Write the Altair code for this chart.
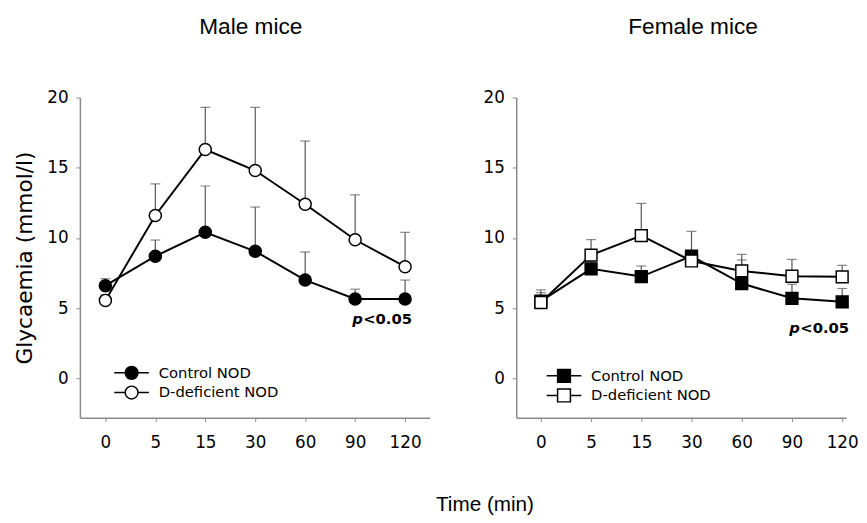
import altair as alt
import pandas as pd

# ---- data ----
times = ["0", "5", "15", "30", "60", "90", "120"]
groups = ["Control NOD", "D-deficient NOD"]

male_ctrl = [6.6, 8.7, 10.4, 9.05, 7.0, 5.65, 5.65]
male_ctrl_sem = [0.5, 1.15, 3.3, 3.15, 2.0, 0.7, 1.35]
male_def = [5.55, 11.6, 16.3, 14.8, 12.4, 9.87, 7.95]
male_def_sem = [0.4, 2.25, 3.0, 4.5, 4.5, 3.2, 2.45]

fem_ctrl = [5.5, 7.8, 7.25, 8.7, 6.75, 5.7, 5.45]
fem_ctrl_sem = [0.6, 0.5, 0.75, 1.77, 1.68, 1.0, 0.95]
fem_def = [5.4, 8.78, 10.16, 8.36, 7.65, 7.27, 7.23]
fem_def_sem = [0.9, 1.1, 2.3, 0.64, 1.18, 1.2, 0.82]

p_label = ["p", "<0.05"]
p_y = {"male": 4.2, "female": 3.6}

y_ticks = [0, 5, 10, 15, 20]

# ---- build tables ----
def table(ctrl, ctrl_sem, dfc, dfc_sem):
    rows = []
    for g, vals, sems in [(groups[0], ctrl, ctrl_sem), (groups[1], dfc, dfc_sem)]:
        for i, (t, v, s) in enumerate(zip(times, vals, sems)):
            rows.append({"idx": i, "time": t, "group": g, "mean": v, "upper": v + s})
    return pd.DataFrame(rows)

male_df = table(male_ctrl, male_ctrl_sem, male_def, male_def_sem)
fem_df = table(fem_ctrl, fem_ctrl_sem, fem_def, fem_def_sem)

label_expr = "[" + ",".join("'%s'" % t for t in times) + "][datum.value]"

AXIS_GRAY = "#8a8a8a"

CIRCLE_PATH = "M-2.7,0H-1M1,0H2.7M1,0A1,1,0,1,1,-1,0A1,1,0,1,1,1,0Z"
SQUARE_PATH = "M-2.7,0H-1M1,0H2.7M-1,-1H1V1H-1Z"


def panel(df, title, shape, legend_path, xdomain, width, ytitle, legend_xy, py, title_dx):
    x = alt.X(
        "idx:Q",
        scale=alt.Scale(domain=xdomain, nice=False, zero=False),
        axis=alt.Axis(
            values=list(range(len(times))),
            labelExpr=label_expr,
            title=None,
            grid=False,
            domainColor=AXIS_GRAY,
            domainWidth=1.5,
            tickColor=AXIS_GRAY,
            tickSize=4,
            tickWidth=1,
            labelFont="DejaVu Sans",
            labelFontSize=17,
            labelColor="black",
            labelPadding=13,
        ),
    )
    yaxis = alt.Axis(
        values=y_ticks,
        grid=False,
        domainColor=AXIS_GRAY,
        domainWidth=1.5,
        tickColor=AXIS_GRAY,
        tickSize=4,
        tickWidth=1,
        labelFont="DejaVu Sans",
        labelFontSize=17,
        labelColor="black",
        labelPadding=8,
        titleFont="DejaVu Sans",
        titleFontSize=22,
        titleFontWeight="normal",
        titleColor="black",
        titlePadding=11,
    )
    if ytitle:
        yaxis.title = ytitle
    else:
        yaxis.title = None
    yscale = alt.Scale(domain=[-2.8, 20], nice=False, zero=False)

    base = alt.Chart(df)
    err = base.mark_rule(color="#555555", strokeWidth=1.2).encode(
        x=x, y=alt.Y("mean:Q", scale=yscale, axis=yaxis), y2="upper:Q"
    )
    caps = base.mark_tick(color="#555555", thickness=1.2, size=10, orient="horizontal").encode(
        x="idx:Q", y="upper:Q"
    )
    lines = base.mark_line(color="black", strokeWidth=2).encode(
        x="idx:Q", y="mean:Q", detail="group:N"
    )
    pts = base.mark_point(
        shape=shape,
        size=150 if shape == "circle" else 144,
        filled=True,
        stroke="black",
        strokeWidth=1.5,
        opacity=1,
    ).encode(
        x="idx:Q",
        y="mean:Q",
        fill=alt.Fill(
            "group:N",
            scale=alt.Scale(domain=groups, range=["black", "white"]),
            legend=alt.Legend(
                title=None,
                orient="none",
                legendX=legend_xy[0],
                legendY=legend_xy[1],
                symbolType=legend_path,
                symbolSize=169,
                symbolStrokeColor="black",
                symbolStrokeWidth=1.5,
                labelFont="DejaVu Sans",
                labelFontSize=15,
                labelColor="black",
                labelOffset=20,
                rowPadding=1,
            ),
        ),
        order=alt.Order("order_key:Q"),
    ).transform_calculate(order_key="datum.group == 'Control NOD' ? 0 : 1")

    ann = pd.DataFrame({"idx": [len(times) - 1], "y": [py]})
    ptxt = alt.Chart(ann).mark_text(
        text=p_label[0], font="DejaVu Sans", fontSize=15, fontWeight="bold",
        fontStyle="italic", align="right", baseline="middle", dx=-43, color="black",
    ).encode(x="idx:Q", y="y:Q")
    vtxt = alt.Chart(ann).mark_text(
        text=p_label[1], font="DejaVu Sans", fontSize=15, fontWeight="bold",
        align="right", baseline="middle", dx=7, color="black",
    ).encode(x="idx:Q", y="y:Q")

    return alt.layer(err, caps, lines, pts, ptxt, vtxt).properties(
        width=width,
        height=325,
        title=alt.TitleParams(
            title, font="Liberation Sans", fontSize=23, fontWeight="normal",
            color="black", anchor="middle", frame="group", offset=50, dx=title_dx,
        ),
    )


left = panel(male_df, "Male mice", "circle", CIRCLE_PATH, [-0.51, 6.49], 355,
             "Glycaemia (mmol/l)", (45, 272), p_y["male"], -4)
right = panel(fem_df, "Female mice", "square", SQUARE_PATH, [-0.49, 6.08], 335,
              None, (41, 275), p_y["female"], 12)

chart = alt.hconcat(left, right, spacing=54).resolve_scale(fill="independent").properties(
    title=alt.TitleParams(
        "Time (min)", orient="bottom", anchor="middle", font="Liberation Sans",
        fontSize=21, fontWeight="normal", color="black", offset=45, dx=50,
    ),
    padding={"left": 5, "top": 5, "right": 0, "bottom": 0},
).configure_view(stroke=None).configure_axis(grid=False)

chart.save("out.html", embed_options={"renderer": "svg", "actions": False})
